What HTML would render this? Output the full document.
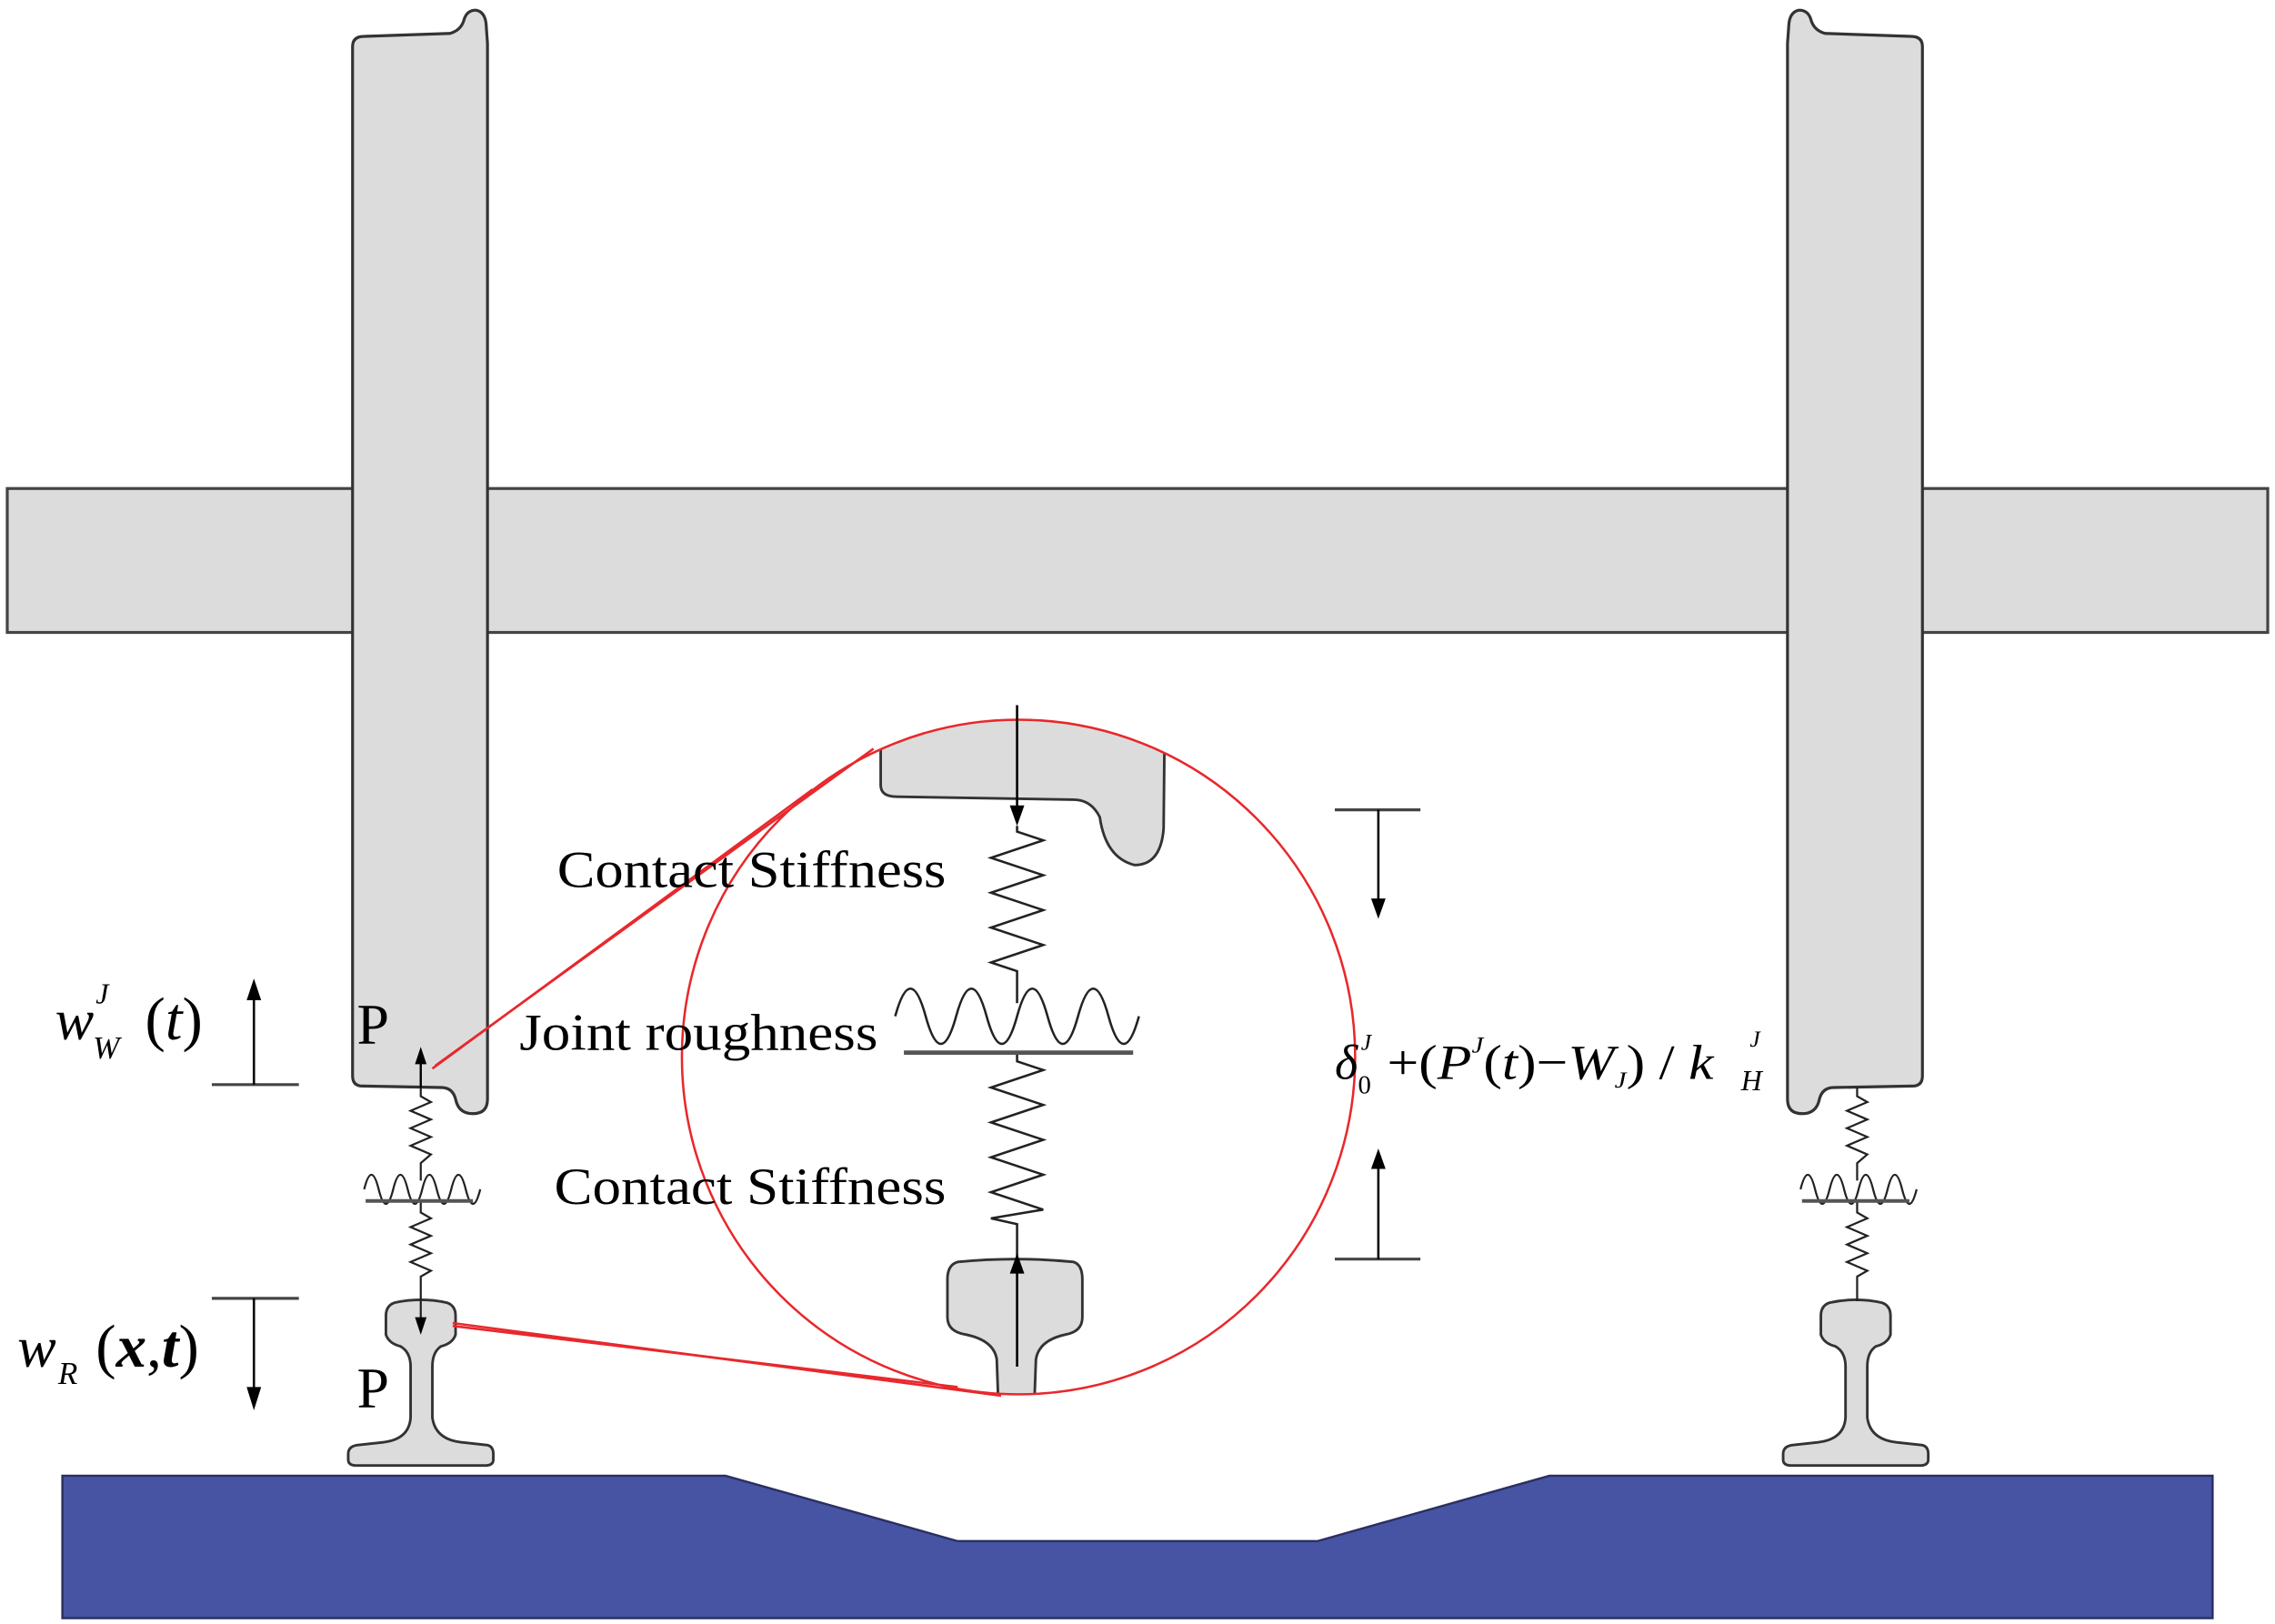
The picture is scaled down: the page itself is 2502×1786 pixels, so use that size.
<!DOCTYPE html>
<html><head><meta charset="utf-8"><style>html,body{margin:0;padding:0;background:#fff}svg{display:block}</style></head>
<body>
<svg width="2502" height="1786" viewBox="0 0 1568 1117" preserveAspectRatio="none" xmlns="http://www.w3.org/2000/svg" font-family="'Liberation Serif', serif">
<defs>
<clipPath id="cc"><circle cx="702" cy="727" r="232"/></clipPath>
</defs>
<!-- base -->
<polygon points="43,1015 500,1015 660,1060 908,1060 1068,1015 1525,1015 1525,1113 43,1113" fill="#4753a3" stroke="#2a2f60" stroke-width="1.5"/>
<!-- axle -->
<rect x="5" y="336" width="1558" height="99" fill="#dcdcdc" stroke="#444" stroke-width="2"/>
<!-- wheels -->
<g fill="#dcdcdc" stroke="#333" stroke-width="2">
<path d="M243,32 Q243,25 251,25 L310,23 Q318,21 320,13 Q322,7 328,7 Q334,8 335,16 L336,30 L336,756 Q336,766 326,766 Q316,766 314,756 Q312,748 304,748 L250,747 Q243,747 243,740 Z"/>
</g>
<g transform="translate(1568,0) scale(-1,1)" fill="#dcdcdc" stroke="#333" stroke-width="2">
<path d="M243,32 Q243,25 251,25 L310,23 Q318,21 320,13 Q322,7 328,7 Q334,8 335,16 L336,30 L336,756 Q336,766 326,766 Q316,766 314,756 Q312,748 304,748 L250,747 Q243,747 243,740 Z"/>
</g>
<!-- rails -->
<g fill="#dcdcdc" stroke="#333" stroke-width="1.8">
<path d="M272,896 Q290,892 308,896 Q314,898 314,905 L314,918 Q312,924 304,926 Q298,930 298,940 L298,975 Q300,990 318,992 L336,994 Q340,995 340,1000 L340,1004 Q340,1008 334,1008 L246,1008 Q240,1008 240,1004 L240,1000 Q240,995 246,994 L264,992 Q282,990 283,975 L283,940 Q283,930 276,926 Q268,924 266,918 L266,905 Q266,898 272,896 Z"/>
<path transform="translate(989,0)" d="M272,896 Q290,892 308,896 Q314,898 314,905 L314,918 Q312,924 304,926 Q298,930 298,940 L298,975 Q300,990 318,992 L336,994 Q340,995 340,1000 L340,1004 Q340,1008 334,1008 L246,1008 Q240,1008 240,1004 L240,1000 Q240,995 246,994 L264,992 Q282,990 283,975 L283,940 Q283,930 276,926 Q268,924 266,918 L266,905 Q266,898 272,896 Z"/>
</g>
<!-- small springs -->
<g fill="none" stroke="#222" stroke-width="1.4">
<polyline points="290,748 290,754 297,758 283,764 297,770 283,776 297,782 283,788 297,794 290,800 290,812"/>
<path d="M251,818 q5,-20 10,0 t10,0 t10,0 t10,0 t10,0 t10,0 t10,0 t10,0"/>
<polyline points="290,826 290,834 297,838 283,844 297,850 283,856 297,862 283,868 297,874 290,878 290,912"/>
<polyline points="1280,748 1280,754 1287,758 1273,764 1287,770 1273,776 1287,782 1273,788 1287,794 1280,800 1280,812"/>
<path d="M1241,818 q5,-20 10,0 t10,0 t10,0 t10,0 t10,0 t10,0 t10,0 t10,0"/>
<polyline points="1280,826 1280,834 1287,838 1273,844 1287,850 1273,856 1287,862 1273,868 1287,874 1280,878 1280,895"/>
</g>
<line x1="252" y1="826" x2="326" y2="826" stroke="#555" stroke-width="2.5"/>
<line x1="1242" y1="826" x2="1316" y2="826" stroke="#555" stroke-width="2.5"/>
<line x1="290" y1="748" x2="290" y2="730" stroke="#000" stroke-width="1.5"/>
<path d="M286,732 L294,732 L290,720 Z"/>
<path d="M286,906 L294,906 L290,918 Z"/>
<!-- circle zoom -->
<g fill="#dcdcdc" stroke="#333" stroke-width="1.8" clip-path="url(#cc)">
<path d="M607,470 L607,540 Q607,548 618,548 L740,550 Q752,550 758,562 Q762,590 782,595 Q800,595 802,570 L803,470 Z"/>
<path d="M660,868 Q700,864 740,868 Q746,870 746,880 L746,906 Q746,916 734,918 Q716,922 714,935 L712,990 L689,990 L687,935 Q685,922 666,918 Q653,916 653,906 L653,880 Q653,870 660,868 Z"/>
</g>
<circle cx="702" cy="727" r="232" fill="none" stroke="#e8282c" stroke-width="1.6"/>
<g stroke="#e8282c" stroke-width="1.6" fill="none">
<line x1="298" y1="735" x2="560" y2="543"/>
<line x1="300" y1="733" x2="602" y2="515"/>
<line x1="312" y1="910" x2="690" y2="960"/>
<line x1="312" y1="912" x2="660" y2="954"/>
</g>
<g fill="none" stroke="#222" stroke-width="1.6">
<polyline points="701,568 701,572 719,578 683,590 719,602 683,614 719,626 683,638 719,650 683,662 701,668 701,690"/>
<path d="M617,699 q10.5,-38 21,0 t21,0 t21,0 t21,0 t21,0 t21,0 t21,0 t21,0"/>
<polyline points="701,724 701,730 719,736 683,748 719,760 683,772 719,784 683,796 719,808 683,820 719,832 683,838 701,842 701,866"/>
</g>
<line x1="623" y1="724" x2="781" y2="724" stroke="#555" stroke-width="3"/>
<g stroke="#000" stroke-width="1.6">
<line x1="701" y1="485" x2="701" y2="556"/>
<line x1="701" y1="940" x2="701" y2="874"/>
<line x1="920" y1="557" x2="979" y2="557" stroke="#444" stroke-width="2"/>
<line x1="950" y1="557" x2="950" y2="620"/>
<line x1="920" y1="866" x2="979" y2="866" stroke="#444" stroke-width="2"/>
<line x1="950" y1="866" x2="950" y2="802"/>
<line x1="146" y1="746" x2="206" y2="746" stroke="#444" stroke-width="2"/>
<line x1="175" y1="746" x2="175" y2="686"/>
<line x1="146" y1="893" x2="206" y2="893" stroke="#444" stroke-width="2"/>
<line x1="175" y1="893" x2="175" y2="956"/>
</g>
<g fill="#000">
<path d="M696,554 L706,554 L701,568 Z"/>
<path d="M696,876 L706,876 L701,862 Z"/>
<path d="M945,618 L955,618 L950,632 Z"/>
<path d="M945,804 L955,804 L950,790 Z"/>
<path d="M170,688 L180,688 L175,673 Z"/>
<path d="M170,954 L180,954 L175,970 Z"/>
</g>
<!-- text -->
<g fill="#000" font-size="36">
<text x="384" y="610" textLength="268" lengthAdjust="spacingAndGlyphs">Contact Stiffness</text>
<text x="358" y="722" textLength="247" lengthAdjust="spacingAndGlyphs">Joint roughness</text>
<text x="382" y="828" textLength="270" lengthAdjust="spacingAndGlyphs">Contact Stiffness</text>
<text x="246" y="718" font-size="40">P</text>
<text x="246" y="968" font-size="40">P</text>
<text x="38" y="715" font-size="40" font-style="italic">w</text>
<text x="66" y="690" font-size="20" font-style="italic">J</text>
<text x="64" y="728" font-size="22" font-style="italic">W</text>
<text x="100" y="715" font-size="42">(<tspan font-style="italic">t</tspan>)</text>
<text x="12" y="940" font-size="40" font-style="italic">w</text>
<text x="40" y="952" font-size="22" font-style="italic">R</text>
<text x="66" y="940" font-size="42">(<tspan font-style="italic" font-weight="bold">x</tspan>,<tspan font-style="italic" font-weight="bold">t</tspan>)</text>
<text x="920" y="742" font-size="34" font-style="italic">δ</text>
<text x="938" y="722" font-size="16" font-style="italic">J</text>
<text x="936" y="752" font-size="18">0</text>
<text x="956" y="742" font-size="34" textLength="225" lengthAdjust="spacingAndGlyphs">+(<tspan font-style="italic">P</tspan><tspan font-size="16" dy="-18" font-style="italic">J</tspan><tspan dy="18">(</tspan><tspan font-style="italic">t</tspan>)−<tspan font-style="italic">W</tspan><tspan font-size="16" dy="6" font-style="italic">J</tspan><tspan dy="-6">) / </tspan><tspan font-style="italic">k</tspan></text>
<text x="1206" y="720" font-size="16" font-style="italic">J</text>
<text x="1200" y="750" font-size="20" font-style="italic">H</text>
</g>
</svg>
</body></html>
